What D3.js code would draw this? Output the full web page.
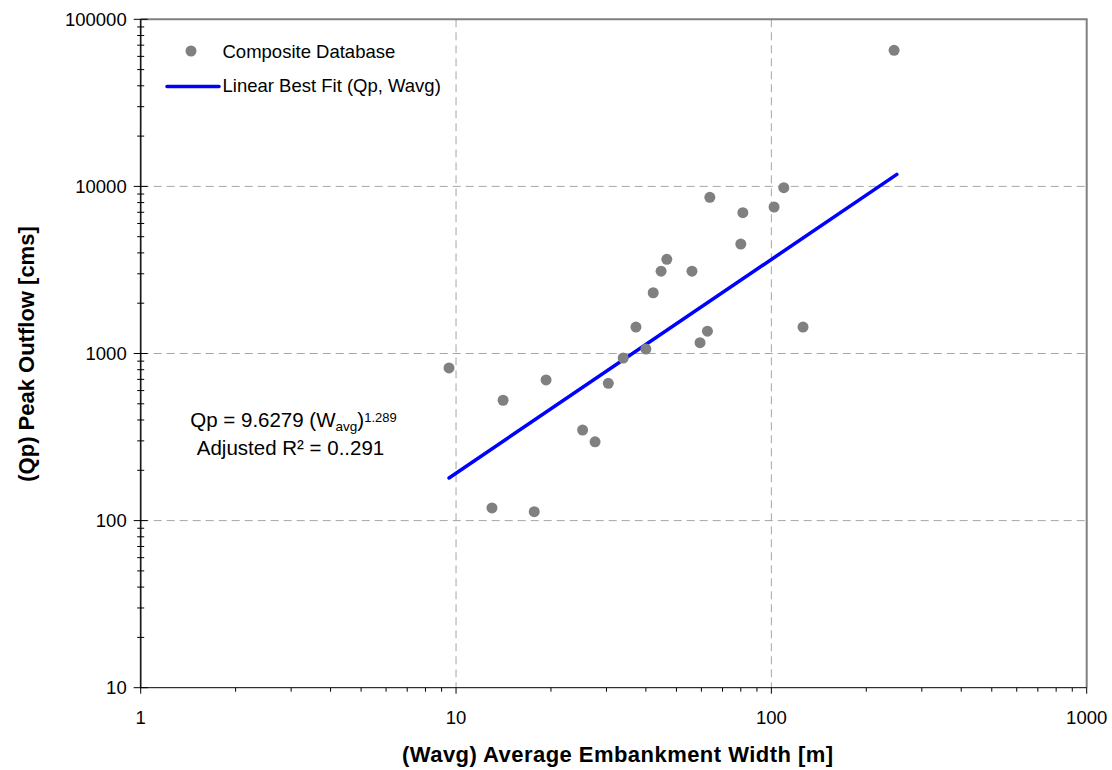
<!DOCTYPE html>
<html>
<head>
<meta charset="utf-8">
<script src="https://cdn.jsdelivr.net/npm/d3@7"></script>
<style>
  html, body { margin: 0; padding: 0; background: #fff; }
  svg { display: block; font-family: "Liberation Sans", Arial, sans-serif; }
</style>
</head>
<body>
<svg id="chart" width="1112" height="770"></svg>
<script>
// ---- Data ----
const widthAvg = [9.5, 13.0, 14.1, 17.7, 19.3, 25.2, 27.6, 30.4, 33.9, 37.2, 40.0, 42.2, 44.7, 46.6, 56.0, 59.4, 62.7, 63.8, 80.0, 81.2, 102, 109.5, 126, 245];
const peakOutflow = [820, 119, 525, 113, 695, 348, 296, 663, 940, 1440, 1064, 2310, 3110, 3660, 3110, 1160, 1360, 8600, 4520, 6960, 7530, 9820, 1440, 65200];
const fitX = [9.5, 250];
const fitY = [180, 11800];
const xTicks = [1, 10, 100, 1000];
const yTicks = [10, 100, 1000, 10000, 100000];
const legendLabels = ["Composite Database", "Linear Best Fit (Qp, Wavg)"];

const svg = d3.select("#chart");
const L = 140.7, R = 1086.7, T = 19.3, B = 687.7;
const x = d3.scaleLog().domain([1, 1000]).range([L, R]);
const y = d3.scaleLog().domain([10, 100000]).range([B, T]);

// Gridlines
const g = svg.append("g");
g.selectAll("line.vg").data(xTicks.filter(v => v > 1 && v < 1000)).enter().append("line")
  .attr("x1", d => x(d)).attr("x2", d => x(d)).attr("y1", T).attr("y2", B)
  .attr("stroke", "#a6a6a6").attr("stroke-width", 1).attr("stroke-dasharray", "8,5");
g.selectAll("line.hg").data(yTicks.filter(v => v > 10 && v < 100000)).enter().append("line")
  .attr("x1", L).attr("x2", R).attr("y1", d => y(d)).attr("y2", d => y(d))
  .attr("stroke", "#a6a6a6").attr("stroke-width", 1).attr("stroke-dasharray", "8,5");

// Plot border (top/right gray)
svg.append("path")
  .attr("d", `M${L},${T}H${R}V${B}`)
  .attr("fill", "none").attr("stroke", "#808080").attr("stroke-width", 2);
svg.append("line").attr("x1", L).attr("x2", L).attr("y1", T).attr("y2", B)
  .attr("stroke", "#808080").attr("stroke-width", 2);

// Minor tick values
function minors(lo, hi) {
  const out = [];
  for (let p = lo; p < hi; p *= 10) for (let k = 2; k <= 9; k++) out.push(p * k);
  return out;
}

// Y axis (cross ticks)
const yAx = svg.append("g");
yAx.append("line").attr("x1", L).attr("x2", L).attr("y1", T).attr("y2", B).attr("stroke", "#000").attr("stroke-width", 1);
yAx.selectAll("line.ymaj").data(yTicks).enter().append("line")
  .attr("x1", L - 7).attr("x2", L + 7).attr("y1", d => y(d)).attr("y2", d => y(d))
  .attr("stroke", "#000").attr("stroke-width", 1);
yAx.selectAll("line.ymin").data(minors(10, 100000)).enter().append("line")
  .attr("x1", L - 3.5).attr("x2", L + 3.5).attr("y1", d => y(d)).attr("y2", d => y(d))
  .attr("stroke", "#000").attr("stroke-width", 1);
yAx.selectAll("text").data(yTicks).enter().append("text")
  .attr("x", L - 14).attr("y", d => y(d) + 6.5)
  .attr("text-anchor", "end").attr("font-size", 18.5).attr("fill", "#000")
  .text(d => d3.format("d")(d));

// X axis (outside ticks)
const xAx = svg.append("g");
xAx.append("line").attr("x1", L).attr("x2", R).attr("y1", B).attr("y2", B).attr("stroke", "#000").attr("stroke-width", 1);
xAx.selectAll("line.xmaj").data(xTicks).enter().append("line")
  .attr("x1", d => x(d)).attr("x2", d => x(d)).attr("y1", B).attr("y2", B + 6)
  .attr("stroke", "#000").attr("stroke-width", 1);
xAx.selectAll("line.xmin").data(minors(1, 1000)).enter().append("line")
  .attr("x1", d => x(d)).attr("x2", d => x(d)).attr("y1", B).attr("y2", B + 4)
  .attr("stroke", "#000").attr("stroke-width", 1);
xAx.selectAll("text").data(xTicks).enter().append("text")
  .attr("x", d => x(d)).attr("y", 724)
  .attr("text-anchor", "middle").attr("font-size", 18.5).attr("fill", "#000")
  .text(d => d3.format("d")(d));

// Axis titles
svg.append("text").attr("x", 617.5).attr("y", 762).attr("text-anchor", "middle")
  .attr("font-size", 22).attr("font-weight", "bold").attr("fill", "#000")
  .attr("textLength", 431).attr("lengthAdjust", "spacing")
  .text("(Wavg) Average Embankment Width [m]");
svg.append("text").attr("transform", "translate(34,354) rotate(-90)").attr("text-anchor", "middle")
  .attr("font-size", 22).attr("font-weight", "bold").attr("fill", "#000")
  .text("(Qp) Peak Outflow [cms]");

// Fit line
const fitData = fitX.map((v, i) => [v, fitY[i]]);
svg.append("path").datum(fitData)
  .attr("d", d3.line().x(d => x(d[0])).y(d => y(d[1])))
  .attr("fill", "none").attr("stroke", "#0000ff").attr("stroke-width", 3.5).attr("stroke-linecap", "round");

// Points
const pts = widthAvg.map((v, i) => [v, peakOutflow[i]]);
svg.append("g").selectAll("circle").data(pts).enter().append("circle")
  .attr("cx", d => x(d[0])).attr("cy", d => y(d[1])).attr("r", 5.5)
  .attr("fill", "#808080");

// Legend
const lg = svg.append("g");
lg.append("circle").attr("cx", 191).attr("cy", 51).attr("r", 5.5).attr("fill", "#808080");
lg.append("text").attr("x", 222.5).attr("y", 58).attr("font-size", 18.5).attr("fill", "#000").text(legendLabels[0]);
lg.append("line").attr("x1", 167).attr("x2", 219).attr("y1", 86.5).attr("y2", 86.5)
  .attr("stroke", "#0000ff").attr("stroke-width", 3.5).attr("stroke-linecap", "round");
lg.append("text").attr("x", 222.5).attr("y", 92).attr("font-size", 18.5).attr("fill", "#000").text(legendLabels[1]);

// Equation annotation
const eq = svg.append("text").attr("x", 293.5).attr("y", 426.5).attr("text-anchor", "middle")
  .attr("font-size", 20.5).attr("fill", "#000");
eq.append("tspan").text("Qp = 9.6279 (W");
eq.append("tspan").attr("font-size", 13.5).attr("dy", 4).text("avg");
eq.append("tspan").attr("dy", -4).text(")");
eq.append("tspan").attr("font-size", 13).attr("dy", -4.5).text("1.289");
svg.append("text").attr("x", 290.5).attr("y", 455).attr("text-anchor", "middle")
  .attr("font-size", 20.5).attr("fill", "#000").text("Adjusted R² = 0..291");
</script>
</body>
</html>
